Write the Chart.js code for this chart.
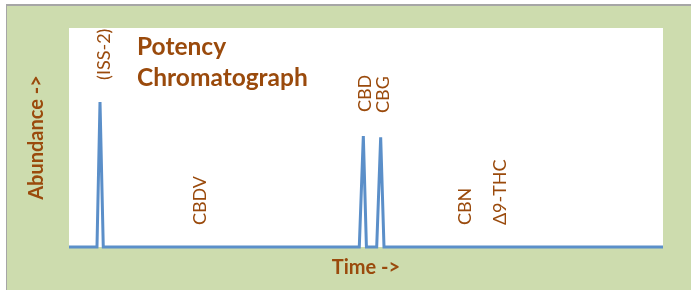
<!DOCTYPE html>
<html>
<head>
<meta charset="utf-8">
<script src="https://cdn.jsdelivr.net/npm/chart.js@4/dist/chart.umd.min.js"></script>
<style>
  html, body { margin: 0; padding: 0; background: #fff; }
  canvas { display: block; }
</style>
</head>
<body>
<canvas id="chromChart" width="691" height="290"></canvas>
<script>
// retention time (arbitrary units, 0-100) and detector response
const times = [0, 4.71, 5.22, 5.77, 48.87, 49.55, 50.07, 51.8, 52.47, 53.03, 100];
const abundance = [0, 0, 66.2, 0, 0, 50.7, 0, 0, 50.1, 0, 0];

// compound labels and where they sit on the trace (time, abundance)
const peakNames = ['(ISS-2)', 'CBDV', 'CBD', 'CBG', 'CBN', 'Δ9-THC'];
const peakTimes = [5.9, 22.05, 49.8, 52.9, 66.75, 72.6];
const labelLevels = [76.3, 10, 61.6, 61.2, 10, 10];

const brown = '#9a4a0c';
const green = '#cddcae';

const backdrop = {
    id: 'backdrop',
    beforeDraw(chart) {
        const ctx = chart.ctx;
        const a = chart.chartArea;
        ctx.save();
        ctx.fillStyle = '#ffffff';
        ctx.fillRect(0, 0, chart.width, chart.height);
        ctx.fillStyle = '#a6a6a6';
        ctx.fillRect(6, 4, chart.width, chart.height);
        ctx.fillStyle = green;
        ctx.fillRect(7, 6, chart.width, chart.height);
        ctx.fillStyle = '#ffffff';
        ctx.fillRect(a.left, a.top, a.right - a.left, a.bottom - a.top);
        ctx.restore();
    }
};

const peakLabels = {
    id: 'peakLabels',
    afterDatasetsDraw(chart) {
        const ctx = chart.ctx;
        const x = chart.scales.x;
        const y = chart.scales.y;
        ctx.save();
        ctx.fillStyle = brown;
        ctx.font = '18px Lato';
        ctx.textAlign = 'left';
        ctx.textBaseline = 'middle';
        peakNames.forEach((name, i) => {
            ctx.save();
            ctx.translate(x.getPixelForValue(peakTimes[i]), y.getPixelForValue(labelLevels[i]));
            ctx.rotate(-Math.PI / 2);
            ctx.fillText(name, 0, 0);
            ctx.restore();
        });

        // chart heading sits inside the plot
        const a = chart.chartArea;
        ctx.font = 'bold 24.5px Lato';
        ctx.textBaseline = 'alphabetic';
        ctx.fillText('Potency', a.left + 68, a.top + 27);
        ctx.fillText('Chromatograph', a.left + 68, a.top + 58);
        ctx.restore();
    }
};

const ctx = document.getElementById('chromChart').getContext('2d');

new Chart(ctx, {
    type: 'line',
    data: {
        datasets: [{
            data: times.map((t, i) => ({ x: t, y: abundance[i] })),
            borderColor: '#5b8fc9',
            borderWidth: 3,
            pointRadius: 0,
            tension: 0,
            clip: false
        }]
    },
    options: {
        responsive: false,
        animation: false,
        layout: {
            autoPadding: false,
            padding: { left: 16, right: 28, top: 28, bottom: 10 }
        },
        plugins: {
            legend: { display: false },
            tooltip: { enabled: false }
        },
        scales: {
            x: {
                type: 'linear',
                min: 0,
                max: 100,
                grid: { display: false, drawTicks: false },
                border: { display: false },
                ticks: { display: false },
                title: {
                    display: true,
                    text: 'Time ->',
                    color: brown,
                    font: { family: 'Lato', size: 20, weight: 'bold', lineHeight: 1.2 },
                    padding: { top: 9, bottom: 0 }
                }
            },
            y: {
                min: 0,
                max: 100,
                grid: { display: false, drawTicks: false },
                border: { display: false },
                ticks: { display: false },
                title: {
                    display: true,
                    text: 'Abundance ->',
                    color: brown,
                    font: { family: 'Lato', size: 20, weight: 'bold', lineHeight: 1.2 },
                    padding: { top: 9, bottom: 20 }
                }
            }
        }
    },
    plugins: [backdrop, peakLabels]
});
</script>
</body>
</html>
